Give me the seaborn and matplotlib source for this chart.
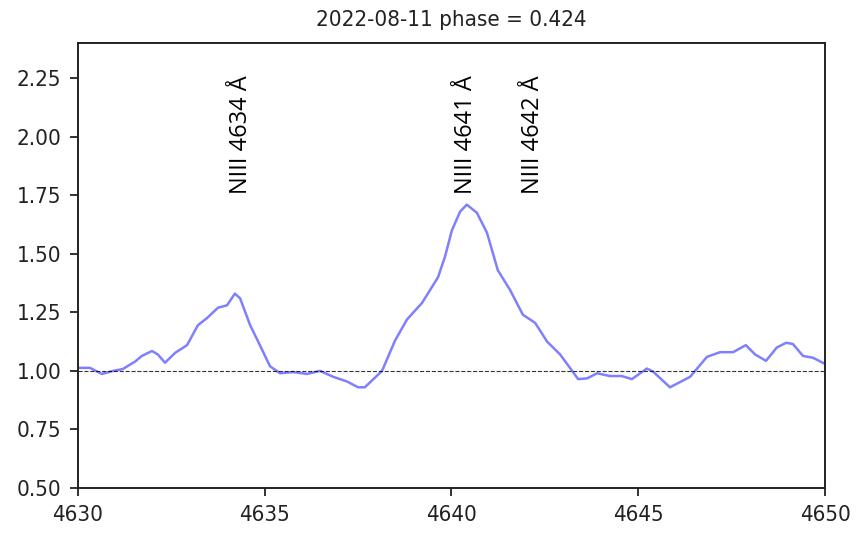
import matplotlib
matplotlib.use("Agg")
from matplotlib import pyplot as plt
from matplotlib import font_manager
import pandas as pd
import seaborn as sns

# wavelength (Angstrom) and normalised flux
wavelength = [4630.00, 4630.32, 4630.64, 4630.94, 4631.20, 4631.53, 4631.71, 4631.98,
              4632.14, 4632.33, 4632.60, 4632.92, 4633.21, 4633.45, 4633.75, 4633.99,
              4634.20, 4634.34, 4634.61, 4634.87, 4635.14, 4635.41, 4635.76, 4636.13,
              4636.48, 4636.83, 4637.20, 4637.50, 4637.68, 4638.14, 4638.49, 4638.81,
              4639.21, 4639.64, 4639.83, 4640.01, 4640.23, 4640.41, 4640.68, 4640.95,
              4641.24, 4641.57, 4641.91, 4642.24, 4642.56, 4642.91, 4643.23, 4643.39,
              4643.63, 4643.90, 4644.24, 4644.56, 4644.83, 4645.23, 4645.39, 4645.85,
              4646.39, 4646.84, 4647.19, 4647.54, 4647.88, 4648.13, 4648.42, 4648.71,
              4648.96, 4649.14, 4649.41, 4649.68, 4650.00]
flux = [1.013, 1.013, 0.987, 1.000, 1.008, 1.040, 1.064, 1.085,
        1.070, 1.035, 1.077, 1.110, 1.195, 1.225, 1.270, 1.280,
        1.330, 1.310, 1.195, 1.110, 1.020, 0.990, 0.995, 0.987,
        1.000, 0.975, 0.955, 0.930, 0.930, 1.000, 1.130, 1.220,
        1.290, 1.400, 1.490, 1.600, 1.680, 1.710, 1.675, 1.590,
        1.430, 1.345, 1.240, 1.205, 1.125, 1.070, 1.000, 0.965,
        0.968, 0.990, 0.978, 0.978, 0.965, 1.010, 0.998, 0.930,
        0.975, 1.060, 1.080, 1.080, 1.110, 1.070, 1.043, 1.100,
        1.120, 1.115, 1.064, 1.056, 1.030]

# line identifications
line_names = ["NIII 4634 Å", "NIII 4641 Å", "NIII 4642 Å"]
line_pos = [4634.36, 4640.38, 4642.18]

title = "2022-08-11 phase = 0.424"

df = pd.DataFrame({"wavelength": wavelength, "flux": flux})

sns.set_style("ticks")
plt.rcParams["font.family"] = ["DejaVu Sans"]
# narrower digits like the reference if the condensed face exists
has_cond = any(f.name == "DejaVu Sans" and f.stretch == "condensed"
               for f in font_manager.fontManager.ttflist)
if has_cond:
    plt.rcParams["font.stretch"] = "condensed"
    tick_size = 16
else:
    tick_size = 15

fig = plt.figure(figsize=(8.56, 5.33), dpi=100)
ax = fig.add_axes([0.0911, 0.0844, 0.8727, 0.8349])

sns.lineplot(data=df, x="wavelength", y="flux", ax=ax, color="b", alpha=0.5,
             linewidth=1.8, sort=False)
ax.axhline(1.0, color="k", linestyle="--", linewidth=0.8, alpha=0.8)

for name, pos in zip(line_names, line_pos):
    ax.text(pos, 1.755, name, rotation=90, ha="center", va="bottom",
            fontsize=17, family=["Open Sans", "DejaVu Sans"],
            fontstretch="normal", color="black")

ax.set_xlim(4630, 4650)
ax.set_ylim(0.5, 2.4)
ax.set_xticks([4630, 4635, 4640, 4645, 4650])
ax.set_yticks([0.5, 0.75, 1.0, 1.25, 1.5, 1.75, 2.0, 2.25])
ax.set_yticklabels(["0.50", "0.75", "1.00", "1.25", "1.50", "1.75", "2.00", "2.25"])
ax.set_xlabel("")
ax.set_ylabel("")
ax.tick_params(direction="out", length=6, width=1.3, labelsize=tick_size, pad=6,
               colors="#222222")
for s in ax.spines.values():
    s.set_linewidth(1.4)
    s.set_color("#222222")
ax.set_title(title, fontsize=tick_size, pad=12, color="#222222")

fig.savefig("out.png", dpi=100)
